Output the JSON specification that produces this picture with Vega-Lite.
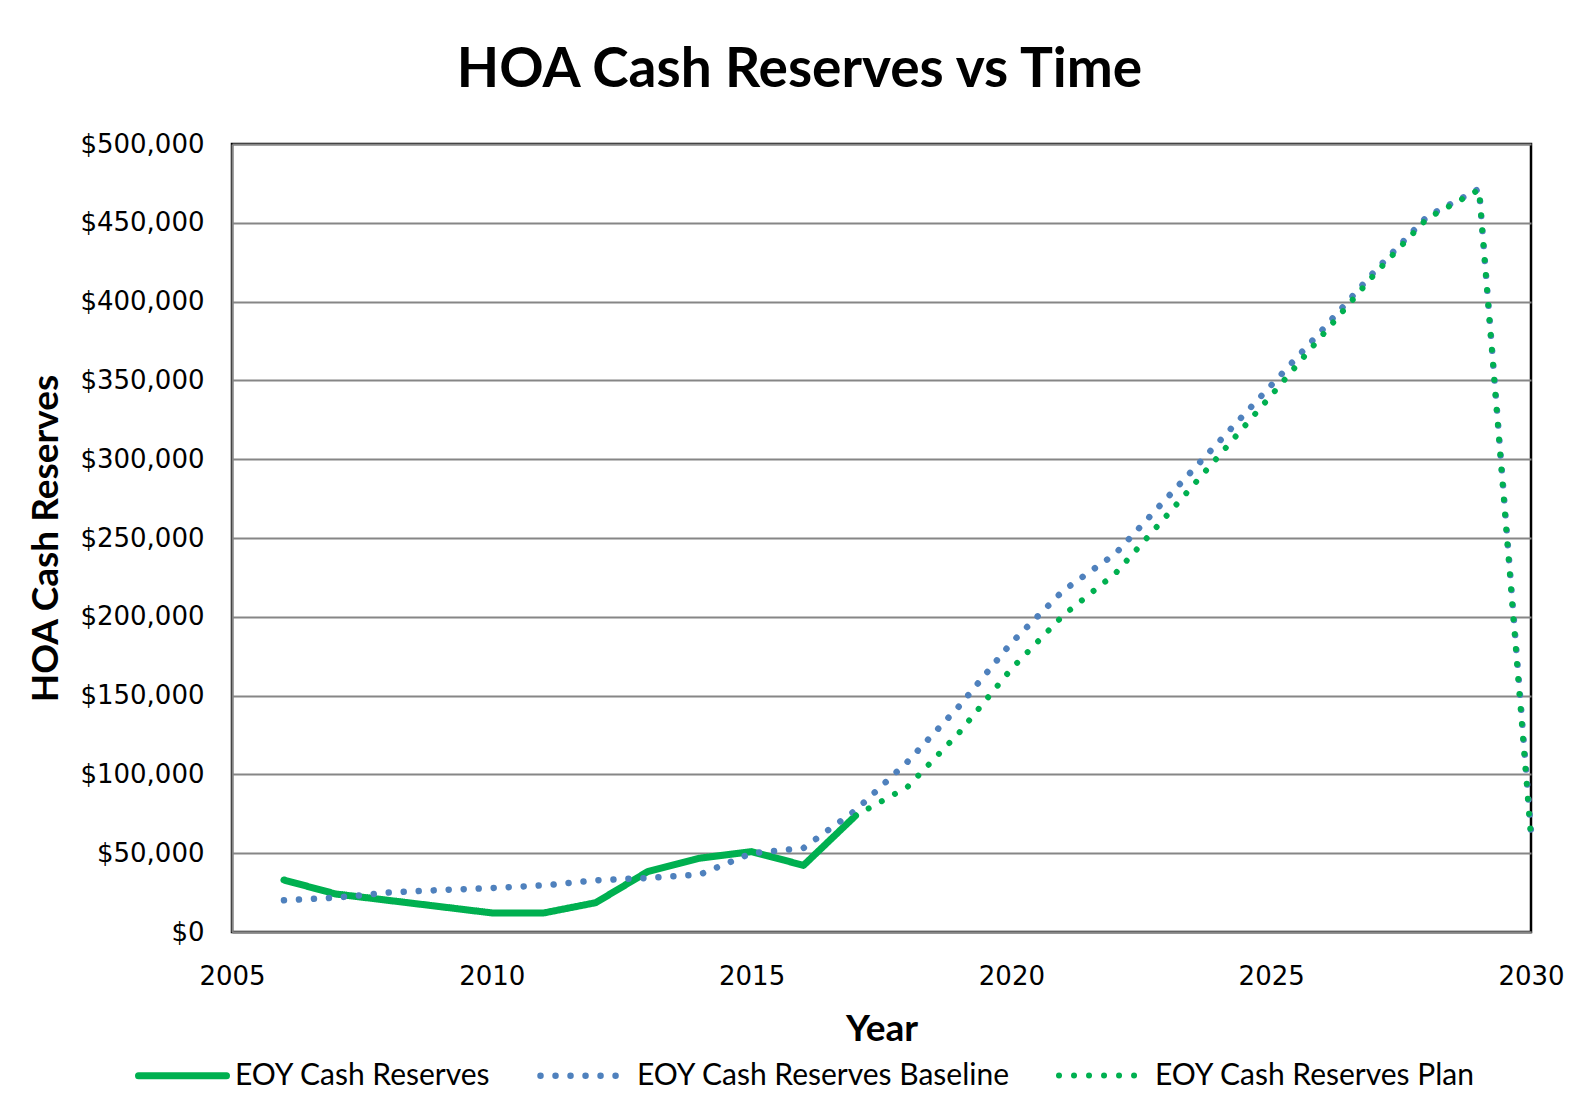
{
  "$schema": "https://vega.github.io/schema/vega-lite/v6.json",
  "width": 1299,
  "height": 788,
  "autosize": {"type": "none"},
  "padding": {"left": 232, "top": 144, "right": 54, "bottom": 188},
  "background": "white",
  "title": {
    "text": "HOA Cash Reserves vs Time",
    "font": "Lato",
    "fontWeight": "bold",
    "fontSize": 55,
    "color": "black",
    "anchor": "middle",
    "baseline": "alphabetic",
    "offset": -11,
    "dx": -82
  },
  "config": {
    "view": {"stroke": "black", "strokeWidth": 2.5},
    "legend": {"padding": 0}
  },
  "data": {
    "values": [
      {"Year": 2006, "Reserves": 33000, "Series": "EOY Cash Reserves"},
      {"Year": 2007, "Reserves": 24100, "Series": "EOY Cash Reserves"},
      {"Year": 2008, "Reserves": 20100, "Series": "EOY Cash Reserves"},
      {"Year": 2009, "Reserves": 16100, "Series": "EOY Cash Reserves"},
      {"Year": 2010, "Reserves": 12100, "Series": "EOY Cash Reserves"},
      {"Year": 2011, "Reserves": 12100, "Series": "EOY Cash Reserves"},
      {"Year": 2012, "Reserves": 18600, "Series": "EOY Cash Reserves"},
      {"Year": 2013, "Reserves": 38300, "Series": "EOY Cash Reserves"},
      {"Year": 2014, "Reserves": 46800, "Series": "EOY Cash Reserves"},
      {"Year": 2015, "Reserves": 51000, "Series": "EOY Cash Reserves"},
      {"Year": 2016, "Reserves": 42300, "Series": "EOY Cash Reserves"},
      {"Year": 2017, "Reserves": 73800, "Series": "EOY Cash Reserves"},
      {"Year": 2006, "Reserves": 20100, "Series": "EOY Cash Reserves Baseline"},
      {"Year": 2007, "Reserves": 21800, "Series": "EOY Cash Reserves Baseline"},
      {"Year": 2008, "Reserves": 25000, "Series": "EOY Cash Reserves Baseline"},
      {"Year": 2009, "Reserves": 26600, "Series": "EOY Cash Reserves Baseline"},
      {"Year": 2010, "Reserves": 27900, "Series": "EOY Cash Reserves Baseline"},
      {"Year": 2011, "Reserves": 29600, "Series": "EOY Cash Reserves Baseline"},
      {"Year": 2012, "Reserves": 32800, "Series": "EOY Cash Reserves Baseline"},
      {"Year": 2013, "Reserves": 34300, "Series": "EOY Cash Reserves Baseline"},
      {"Year": 2014, "Reserves": 36400, "Series": "EOY Cash Reserves Baseline"},
      {"Year": 2015, "Reserves": 50000, "Series": "EOY Cash Reserves Baseline"},
      {"Year": 2016, "Reserves": 53300, "Series": "EOY Cash Reserves Baseline"},
      {"Year": 2017, "Reserves": 77200, "Series": "EOY Cash Reserves Baseline"},
      {"Year": 2018, "Reserves": 108000, "Series": "EOY Cash Reserves Baseline"},
      {"Year": 2019, "Reserves": 143500, "Series": "EOY Cash Reserves Baseline"},
      {"Year": 2020, "Reserves": 183500, "Series": "EOY Cash Reserves Baseline"},
      {"Year": 2021, "Reserves": 216700, "Series": "EOY Cash Reserves Baseline"},
      {"Year": 2022, "Reserves": 240000, "Series": "EOY Cash Reserves Baseline"},
      {"Year": 2023, "Reserves": 275600, "Series": "EOY Cash Reserves Baseline"},
      {"Year": 2024, "Reserves": 311300, "Series": "EOY Cash Reserves Baseline"},
      {"Year": 2025, "Reserves": 346900, "Series": "EOY Cash Reserves Baseline"},
      {"Year": 2026, "Reserves": 382600, "Series": "EOY Cash Reserves Baseline"},
      {"Year": 2027, "Reserves": 419500, "Series": "EOY Cash Reserves Baseline"},
      {"Year": 2028, "Reserves": 454000, "Series": "EOY Cash Reserves Baseline"},
      {"Year": 2029, "Reserves": 471500, "Series": "EOY Cash Reserves Baseline"},
      {"Year": 2030, "Reserves": 63900, "Series": "EOY Cash Reserves Baseline"},
      {"Year": 2017, "Reserves": 73800, "Series": "EOY Cash Reserves Plan"},
      {"Year": 2018, "Reserves": 92000, "Series": "EOY Cash Reserves Plan"},
      {"Year": 2019, "Reserves": 126700, "Series": "EOY Cash Reserves Plan"},
      {"Year": 2020, "Reserves": 167000, "Series": "EOY Cash Reserves Plan"},
      {"Year": 2021, "Reserves": 201000, "Series": "EOY Cash Reserves Plan"},
      {"Year": 2022, "Reserves": 227500, "Series": "EOY Cash Reserves Plan"},
      {"Year": 2023, "Reserves": 264600, "Series": "EOY Cash Reserves Plan"},
      {"Year": 2024, "Reserves": 302400, "Series": "EOY Cash Reserves Plan"},
      {"Year": 2025, "Reserves": 340500, "Series": "EOY Cash Reserves Plan"},
      {"Year": 2026, "Reserves": 379300, "Series": "EOY Cash Reserves Plan"},
      {"Year": 2027, "Reserves": 417800, "Series": "EOY Cash Reserves Plan"},
      {"Year": 2028, "Reserves": 452700, "Series": "EOY Cash Reserves Plan"},
      {"Year": 2029, "Reserves": 471000, "Series": "EOY Cash Reserves Plan"},
      {"Year": 2030, "Reserves": 59900, "Series": "EOY Cash Reserves Plan"}
    ]
  },
  "mark": {"type": "line", "strokeCap": "round", "strokeJoin": "round"},
  "encoding": {
    "x": {
      "field": "Year",
      "type": "quantitative",
      "scale": {"domain": [2005, 2030], "nice": false, "zero": false},
      "axis": {
        "values": [2005, 2010, 2015, 2020, 2025, 2030],
        "format": "d",
        "grid": false,
        "ticks": false,
        "labelFlush": false,
        "labelFont": "DejaVu Sans",
        "labelFontSize": 26,
        "labelColor": "black",
        "labelPadding": 31,
        "domainColor": "#868686",
        "domainWidth": 2,
        "title": "Year",
        "titleFont": "Lato",
        "titleFontSize": 37,
        "titleFontWeight": "bold",
        "titleColor": "black",
        "titlePadding": 22
      }
    },
    "y": {
      "field": "Reserves",
      "type": "quantitative",
      "scale": {"domain": [0, 500000], "nice": false},
      "axis": {
        "values": [0, 50000, 100000, 150000, 200000, 250000, 300000, 350000, 400000, 450000, 500000],
        "format": "$,.0f",
        "ticks": false,
        "labelFont": "DejaVu Sans",
        "labelFontSize": 26,
        "labelColor": "black",
        "labelPadding": 28,
        "domainColor": "#868686",
        "domainWidth": 2,
        "gridColor": "#868686",
        "gridWidth": 2,
        "gridOpacity": 1,
        "title": "HOA Cash Reserves",
        "titleFont": "Lato",
        "titleFontSize": 37,
        "titleFontWeight": "bold",
        "titleColor": "black",
        "titlePadding": 14
      }
    },
    "color": {
      "field": "Series",
      "type": "nominal",
      "scale": {
        "domain": ["EOY Cash Reserves", "EOY Cash Reserves Baseline", "EOY Cash Reserves Plan"],
        "range": ["#00B050", "#4F81BD", "#00B050"]
      },
      "legend": {
        "title": null,
        "orient": "none",
        "direction": "horizontal",
        "legendX": -97,
        "legendY": 884,
        "symbolType": "stroke",
        "symbolSize": 7744,
        "symbolStrokeWidth": 6,
        "labelFont": "Lato",
        "labelFontSize": 30,
        "labelColor": "black",
        "labelLimit": 0,
        "labelOffset": 5,
        "columnPadding": 36,
        "encode": {
          "symbols": {"update": {"strokeCap": {"value": "round"}}}
        }
      }
    },
    "strokeDash": {
      "field": "Series",
      "type": "nominal",
      "scale": {
        "domain": ["EOY Cash Reserves", "EOY Cash Reserves Baseline", "EOY Cash Reserves Plan"],
        "range": [[1, 0], [0.01, 15], [0.01, 15]]
      }
    },
    "strokeWidth": {
      "field": "Series",
      "type": "nominal",
      "scale": {
        "domain": ["EOY Cash Reserves", "EOY Cash Reserves Baseline", "EOY Cash Reserves Plan"],
        "range": [7, 6, 6]
      },
      "legend": null
    }
  }
}
